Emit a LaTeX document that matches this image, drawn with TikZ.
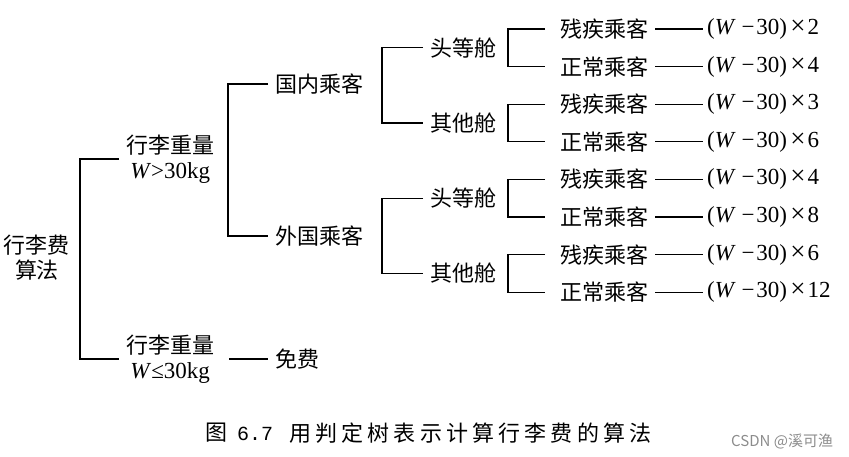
\documentclass[tikz,border=0pt]{standalone}
\usepackage{fontspec}
\setmainfont{Liberation Serif}
\newfontfamily\cjkf{Noto Sans CJK SC}
\newfontfamily\cjkcap[LetterSpace=19]{Noto Sans CJK SC}
\newfontfamily\capmono{Liberation Mono}
\newcommand\Wv{\textit{W}}
\newcommand\resv[1]{{\fontsize{23}{25}\selectfont(\Wv\hspace{0.25em}−\hspace{0.08em}30)\hspace{0.15em}{\fontsize{27}{25}\selectfont ×}\hspace{0.08em}#1}}
\begin{document}
\begin{tikzpicture}[x=1pt,y=-1pt,
  every node/.style={inner ysep=2pt, inner xsep=7pt, font=\fontsize{22}{25}\selectfont\cjkf},
  mixed/.style={anchor=west, align=center, font=\fontsize{22}{25}\selectfont},
  lvl/.style={anchor=west},
  leaf/.style={anchor=west},
  resnode/.style={anchor=west, inner xsep=4pt, font=\fontsize{23}{25}\selectfont},
  ln/.style={line width=1.1pt},
  lnleaf/.style={line width=1.1pt, shorten <=8pt, shorten >=8pt},
]
\useasboundingbox (0,0) rectangle (849,456);

% root
\node[align=center] (root) at (37,258) {行李费\\算法};

% level 1
\node[mixed] (w1) at (119,159) {{\cjkf 行李重量}\\{\fontsize{23}{25}\selectfont\Wv>30kg}};
\node[mixed] (w2) at (119,359) {{\cjkf 行李重量}\\{\fontsize{23}{25}\selectfont\Wv≤30kg}};
\node[lvl] (free) at (268,359) {免费};

% level 2
\node[lvl] (dom) at (268,84) {国内乘客};
\node[lvl] (for) at (268,236) {外国乘客};

% level 3
\node[lvl] (f1) at (423,47.8) {头等舱};
\node[lvl] (o1) at (423,123) {其他舱};
\node[lvl] (f2) at (423,198.2) {头等舱};
\node[lvl] (o2) at (423,273.4) {其他舱};

% leaves
\node[leaf] (a1) at (553,29) {残疾乘客};
\node[leaf] (b1) at (553,66.6) {正常乘客};
\node[leaf] (a2) at (553,104.2) {残疾乘客};
\node[leaf] (b2) at (553,141.8) {正常乘客};
\node[leaf] (a3) at (553,179.4) {残疾乘客};
\node[leaf] (b3) at (553,217) {正常乘客};
\node[leaf] (a4) at (553,254.6) {残疾乘客};
\node[leaf] (b4) at (553,292.2) {正常乘客};

% results
\node[resnode] (ra1) at (703,29) {\resv{2}};
\node[resnode] (rb1) at (703,66.6) {\resv{4}};
\node[resnode] (ra2) at (703,104.2) {\resv{3}};
\node[resnode] (rb2) at (703,141.8) {\resv{6}};
\node[resnode] (ra3) at (703,179.4) {\resv{4}};
\node[resnode] (rb3) at (703,217) {\resv{8}};
\node[resnode] (ra4) at (703,254.6) {\resv{6}};
\node[resnode] (rb4) at (703,292.2) {\resv{12}};

% spines
\coordinate (s0) at (80,259);
\coordinate (s1) at (228,160);
\coordinate (s2) at (382,84);
\coordinate (s3) at (382,236);
\coordinate (s4) at (508,47.8);
\coordinate (s5) at (508,123);
\coordinate (s6) at (508,198.2);
\coordinate (s7) at (508,273.4);

\draw[ln] (w1.west) -| (s0) |- (w2.west);
\draw[ln, shorten <=8pt] (w2.east) -- (free.west);
\draw[ln] (dom.west) -| (s1) |- (for.west);
\draw[ln] (f1.west) -| (s2) |- (o1.west);
\draw[ln] (f2.west) -| (s3) |- (o2.west);
\draw[lnleaf] (a1.west) -| (s4) |- (b1.west);
\draw[lnleaf] (a2.west) -| (s5) |- (b2.west);
\draw[lnleaf] (a3.west) -| (s6) |- (b3.west);
\draw[lnleaf] (a4.west) -| (s7) |- (b4.west);

\foreach \l in {a1,b1,a2,b2,a3,b3,a4,b4}{
  \draw[ln] (\l.east) -- (r\l.west);
}

% caption
\node[anchor=west, inner sep=0pt, font=\fontsize{22}{25}\selectfont] (cap1) at (205,433) {{\cjkf 图}\hspace{10pt}{\capmono\fontsize{20}{25}\selectfont 6.7}};
\node[anchor=west, inner sep=0pt, font=\fontsize{22}{25}\selectfont\cjkcap] (cap2) at (289,433) {用判定树表示计算行李费的算法};

% watermark
\node[anchor=west, inner sep=0pt, text=black!45, font=\fontsize{15}{17}\selectfont\cjkf] (wm) at (731,441) {CSDN @溪可渔};
\end{tikzpicture}
\end{document}
